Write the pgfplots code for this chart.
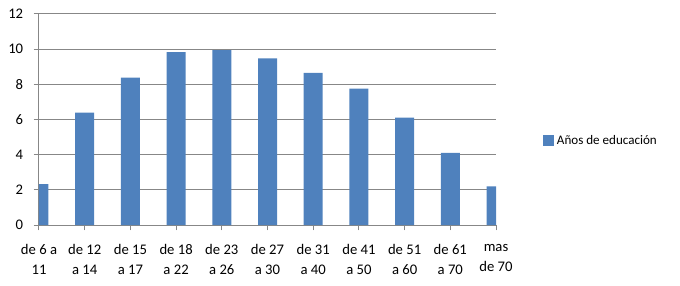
\documentclass[border=0pt]{standalone}
\usepackage{fontspec}
\setmainfont{Carlito}
\usepackage{pgfplots}
\pgfplotsset{compat=1.18}
\definecolor{barblue}{HTML}{4F81BD}
\definecolor{gridgray}{HTML}{878787}
\begin{document}
\fontsize{11pt}{15pt}\selectfont
\begin{tikzpicture}
\path[use as bounding box] (-29.25pt,-45pt) rectangle (480.75pt,168.75pt);
\begin{axis}[
  at={(0,0)}, anchor=south west,
  scale only axis,
  width=342.75pt, height=158.25pt,
  xmin=0, xmax=10, ymin=0, ymax=12,
  ytick={0,2,...,12},
  xtick={0,...,10},
  xticklabels={{de 6 a\\11},{de 12\\a 14},{de 15\\a 17},{de 18\\a 22},{de 23\\a 26},{de 27\\a 30},{de 31\\a 40},{de 41\\a 50},{de 51\\a 60},{de 61\\a 70},{mas\\de 70}},
  xticklabel style={align=center, font=\fontsize{11pt}{15pt}\selectfont, yshift=-6.5pt},
  yticklabel style={font=\fontsize{11pt}{15pt}\selectfont, xshift=-4pt},
  /pgf/number format/assume math mode=true,
  axis x line*=bottom, axis y line*=left,
  axis line style={gridgray, line width=0.75pt, -},
  tick style={gridgray, line width=0.75pt},
  tick align=outside,
  major tick length=4pt,
  ymajorgrids, grid style={gridgray, line width=0.75pt},
  ybar, bar width=14.25pt,
  legend style={at={(1.103,0.40)}, anchor=west, draw=none, fill=none,
    font=\fontsize{9.8pt}{13pt}\selectfont, legend cell align=left,
    inner sep=0pt, /tikz/every even column/.append style={column sep=1pt}},
  legend image code/.code={\fill[barblue] (0pt,-4.1pt) rectangle (8.2pt,4.1pt);},
]
\addplot[fill=barblue, draw=none] coordinates {
 (0,2.33) (1,6.39) (2,8.38) (3,9.83) (4,9.95) (5,9.48) (6,8.65) (7,7.75) (8,6.1) (9,4.1) (10,2.2)};
\addlegendentry{Años de educación}
\end{axis}
\end{tikzpicture}
\end{document}
